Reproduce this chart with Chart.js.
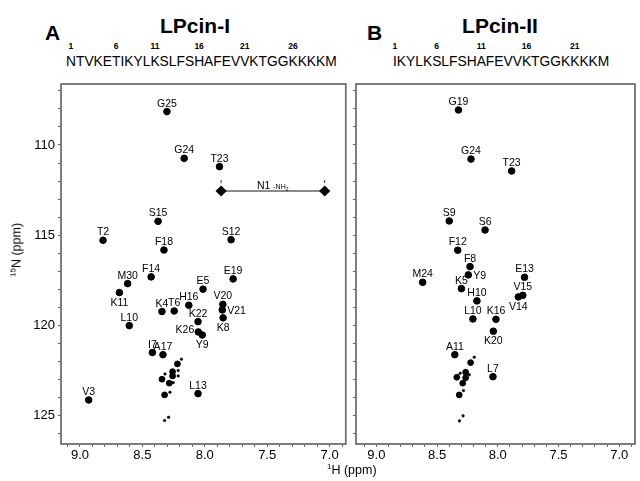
<!DOCTYPE html>
<html>
<head>
<meta charset="utf-8">
<script src="https://cdn.jsdelivr.net/npm/chart.js@4.4.0/dist/chart.umd.min.js"></script>
<style>
body { margin: 0; width: 640px; height: 481px; overflow: hidden; background: #fff; position: relative;
       font-family: "Liberation Sans", Arial, sans-serif; color: #000; }
canvas { position: absolute; top: 0; }
#chartA { left: 0; }
#chartB { left: 350px; }
.panel { position: absolute; font-weight: bold; font-size: 21px; line-height: 21px; }
.title { position: absolute; font-weight: bold; font-size: 21px; line-height: 21px; transform: translateX(-50%); white-space: nowrap; }
.seq { position: absolute; font-size: 13.8px; line-height: 14px; white-space: nowrap; }
.seq span { position: relative; }
.seq span b { position: absolute; left: 50%; transform: translateX(-50%); top: -12px; font-size: 8.5px; line-height: 9px; }
.ylab { position: absolute; left: 16px; top: 250px; font-size: 12.5px; white-space: nowrap; transform: translate(-50%, -50%) rotate(-90deg); }
.xlab { position: absolute; left: 327px; top: 462px; font-size: 12.5px; white-space: nowrap; }
sup { font-size: 8px; vertical-align: 5px; }
</style>
</head>
<body>
<div class="panel" style="left:45px;top:22px">A</div>
<div class="title" style="left:195px;top:15px">LPcin-I</div>
<div class="seq" id="seqA" style="left:66px;top:55px"></div>
<div class="panel" style="left:367px;top:22px">B</div>
<div class="title" style="left:500px;top:15px">LPcin-II</div>
<div class="seq" id="seqB" style="left:393px;top:55px"></div>
<canvas id="chartA" width="352" height="481"></canvas>
<canvas id="chartB" width="290" height="481"></canvas>
<div class="ylab"><sup>15</sup>N (ppm)</div>
<div class="xlab"><sup>1</sup>H (ppm)</div>
<script>
// sequences
const seqA = 'NTVKETIKYLKSLFSHAFEVVKTGGKKKKM';
const seqB = 'IKYLKSLFSHAFEVVKTGGKKKKM';

// axis tick labels
const hTickLabels = [9.0, 8.5, 8.0, 7.5, 7.0];
const nTickLabels = [110, 115, 120, 125];

// LPcin-I assigned peaks (1H ppm, 15N ppm)
const peakNamesA = ['G25','G24','T23','S15','T2','S12','F18','F14','E19','M30','E5','K11','H16','V20','V21','K4','T6','K22','K8','L10','K26','Y9','I7','A17','L13','V3'];
const peakHA = [8.303,8.165,7.882,8.374,8.815,7.789,8.327,8.430,7.773,8.618,8.014,8.684,8.128,7.855,7.860,8.343,8.245,8.054,7.853,8.605,8.052,8.020,8.420,8.335,8.054,8.930];
const peakNA = [108.15,110.74,111.20,114.23,115.28,115.25,115.82,117.31,117.42,117.68,117.99,118.18,118.88,118.83,119.14,119.23,119.20,119.79,119.58,120.01,120.36,120.53,121.50,121.62,123.78,124.13];
// LPcin-I unassigned peaks and asterisk marks
const extraHA = [8.219,8.258,8.258,8.343,8.285,8.322];
const extraNA = [122.13,122.56,122.80,122.98,123.20,123.85];
const starHA = [8.187,8.213,8.213,8.319,8.253,8.279,8.290,8.322];
const starNA = [121.87,122.50,122.80,122.69,123.17,123.70,125.09,125.27];
// N1 side chain NH2 pair
const nh2H = [7.869, 7.039];
const nh2N = [112.55, 112.55];
const nh2MarkN = [112.03, 112.03];

// LPcin-II assigned peaks
const peakNamesB = ['G19','G24','T23','S9','S6','F12','F8','Y9','E13','M24','K5','V15','V14','H10','L10','K16','K20','A11','L7'];
const peakHB = [8.324,8.221,7.886,8.400,8.105,8.330,8.229,8.243,7.780,8.619,8.300,7.794,7.831,8.172,8.205,8.015,8.037,8.354,8.040];
const peakNB = [108.06,110.78,111.44,114.21,114.71,115.83,116.74,117.20,117.33,117.61,117.96,118.33,118.42,118.64,119.64,119.66,120.32,121.62,122.84];
const extraHB = [8.224,8.265,8.265,8.338,8.289,8.318];
const extraNB = [122.06,122.59,122.90,122.87,123.20,123.85];
const starHB = [8.194,8.310,8.235,8.283,8.286,8.316];
const starNB = [121.76,122.65,122.73,123.61,125.01,125.29];

Chart.defaults.font.family = '"Liberation Sans", Arial, sans-serif';
Chart.defaults.color = '#000';

function buildSeq(id, seq) {
    var box = document.getElementById(id);
    for (var i = 0; i < seq.length; i++) {
        var s = document.createElement('span');
        s.textContent = seq[i];
        if (i % 5 === 0) {
            var b = document.createElement('b');
            b.textContent = i + 1;
            s.appendChild(b);
        }
        box.appendChild(s);
    }
}
buildSeq('seqA', seqA);
buildSeq('seqB', seqB);

function toXY(hs, ns) {
    return hs.map(function(h, i) { return {x: h, y: ns[i]}; });
}

// frame round the plot area
const framePlugin = {
    id: 'frame',
    afterDraw: function(chart) {
        var a = chart.chartArea, ctx = chart.ctx;
        ctx.save();
        ctx.strokeStyle = '#707070';
        ctx.lineWidth = 1.8;
        ctx.strokeRect(a.left, a.top, a.right - a.left, a.bottom - a.top);
        ctx.restore();
    }
};

// peak labels, default above the peak
function labelPlugin(names, below, right, left, withNH2) {
    return {
        id: 'peakLabels',
        afterDatasetsDraw: function(chart) {
            var ctx = chart.ctx;
            var pts = chart.getDatasetMeta(0).data;
            ctx.save();
            ctx.fillStyle = '#000';
            ctx.font = '10.5px "Liberation Sans", Arial, sans-serif';
            for (var i = 0; i < names.length; i++) {
                var p = pts[i], n = names[i];
                if (below.indexOf(n) >= 0) {
                    ctx.textAlign = 'center';
                    ctx.fillText(n, p.x, p.y + 13);
                } else if (right.indexOf(n) >= 0) {
                    ctx.textAlign = 'left';
                    ctx.fillText(n, p.x + 5, p.y + 4);
                } else if (left.indexOf(n) >= 0) {
                    ctx.textAlign = 'right';
                    ctx.fillText(n, p.x - 4, p.y + 1);
                } else {
                    ctx.textAlign = 'center';
                    ctx.fillText(n, p.x, p.y - 5);
                }
            }
            if (withNH2) {
                var q = chart.getDatasetMeta(3).data;
                var mid = (q[0].x + q[1].x) / 2;
                var y = q[0].y - 2;
                ctx.textAlign = 'left';
                ctx.font = '10.5px "Liberation Sans", Arial, sans-serif';
                ctx.fillText('N1', mid - 16, y);
                var w = ctx.measureText('N1 ').width;
                ctx.font = '7px "Liberation Sans", Arial, sans-serif';
                ctx.fillText('-NH', mid - 16 + w, y);
                var w2 = ctx.measureText('-NH').width;
                ctx.font = '5px "Liberation Sans", Arial, sans-serif';
                ctx.fillText('2', mid - 16 + w + w2, y + 1.5);
            }
            ctx.restore();
        }
    };
}

function makeScales(hMin, hMax, yWidth, showYLabels) {
    return {
        x: {
            type: 'linear', reverse: true, min: hMin, max: hMax,
            afterFit: function(s) { s.height = 37; },
            afterBuildTicks: function(s) {
                var t = [];
                for (var k = 69; k <= 91; k++) t.push({value: k / 10});
                s.ticks = t;
            },
            ticks: {
                font: {size: 13}, padding: 1, maxRotation: 0, autoSkip: false,
                callback: function(v) {
                    var hit = hTickLabels.find(function(h) { return Math.abs(h - v) < 1e-6; });
                    return hit !== undefined ? hit.toFixed(1) : '';
                }
            },
            grid: {drawOnChartArea: false, tickLength: 3, color: '#666'},
            border: {display: false}
        },
        y: {
            type: 'linear', reverse: true, min: 106.62, max: 126.57,
            afterFit: function(s) { s.width = yWidth; },
            afterBuildTicks: function(s) {
                var t = [];
                for (var k = 107; k <= 126; k++) t.push({value: k});
                s.ticks = t;
            },
            ticks: {
                display: showYLabels, font: {size: 13}, padding: 3, autoSkip: false,
                callback: function(v) { return nTickLabels.indexOf(v) >= 0 ? String(v) : ''; }
            },
            grid: {drawOnChartArea: false, tickLength: 3, color: '#666'},
            border: {display: false}
        }
    };
}

var peakStyle = {type: 'scatter', pointRadius: 3.3, pointBackgroundColor: '#000', pointBorderColor: '#000', pointBorderWidth: 1};
var extraStyle = {type: 'scatter', pointRadius: 2.9, pointBackgroundColor: '#000', pointBorderColor: '#000', pointBorderWidth: 1};
var starStyle = {type: 'scatter', pointRadius: 1.3, pointBackgroundColor: '#000', pointBorderColor: '#000', pointBorderWidth: 0.5};

new Chart(document.getElementById('chartA').getContext('2d'), {
    type: 'scatter',
    data: {
        datasets: [
            Object.assign({data: toXY(peakHA, peakNA)}, peakStyle),
            Object.assign({data: toXY(extraHA, extraNA)}, extraStyle),
            Object.assign({data: toXY(starHA, starNA)}, starStyle),
            {type: 'scatter', data: toXY(nh2H, nh2N), showLine: true, borderColor: '#8a8a8a', borderWidth: 2,
             pointStyle: 'rectRot', pointRadius: 4.2, pointBackgroundColor: '#000', pointBorderColor: '#000'},
            {type: 'scatter', data: toXY(nh2H, nh2MarkN), pointStyle: 'line', rotation: 90, pointRadius: 1.5,
             pointBorderColor: '#333', pointBorderWidth: 1}
        ]
    },
    options: {
        responsive: false, animation: false,
        layout: {padding: {top: 84, right: 4, left: 0, bottom: 0}},
        plugins: {legend: {display: false}, tooltip: {enabled: false}},
        scales: makeScales(6.870, 9.152, 61, true)
    },
    plugins: [framePlugin, labelPlugin(peakNamesA, ['K11','K8','Y9'], ['V21'], ['K26'], true)]
});

new Chart(document.getElementById('chartB').getContext('2d'), {
    type: 'scatter',
    data: {
        datasets: [
            Object.assign({data: toXY(peakHB, peakNB)}, peakStyle),
            Object.assign({data: toXY(extraHB, extraNB)}, extraStyle),
            Object.assign({data: toXY(starHB, starNB)}, starStyle)
        ]
    },
    options: {
        responsive: false, animation: false,
        layout: {padding: {top: 84, right: 1, left: 0, bottom: 0}},
        plugins: {legend: {display: false}, tooltip: {enabled: false}},
        scales: makeScales(6.870, 9.168, 6, false)
    },
    plugins: [framePlugin, labelPlugin(peakNamesB, ['V14','K20'], ['Y9'], [], false)]
});
</script>
</body>
</html>
